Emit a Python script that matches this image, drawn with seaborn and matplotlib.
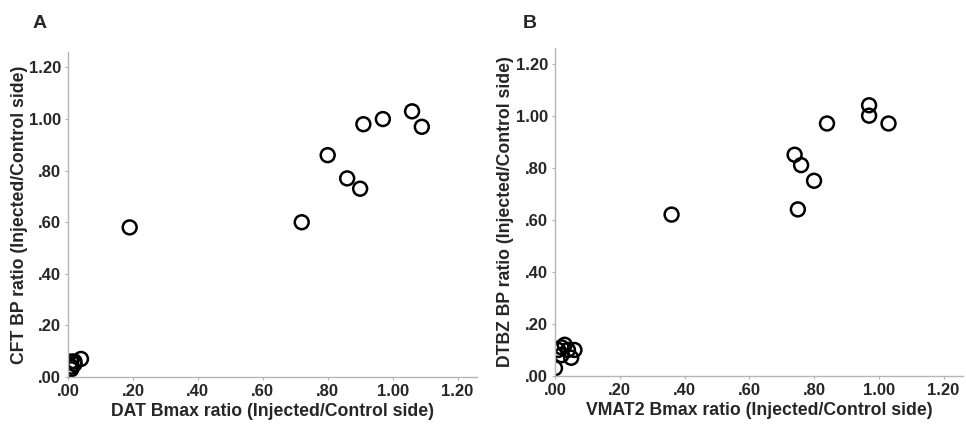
import numpy as np
import pandas as pd
import matplotlib
matplotlib.use("Agg")
import matplotlib.pyplot as plt
from matplotlib.ticker import FixedLocator
import seaborn as sns

# Panel A: DAT Bmax ratio vs CFT BP ratio
dat_bmax = [0.19, 0.72, 0.80, 0.86, 0.90, 0.91, 0.97, 1.06, 1.09,
            0.04, 0.01, 0.02, 0.01, 0.01, 0.02]
cft_bp = [0.58, 0.60, 0.86, 0.77, 0.73, 0.98, 1.00, 1.03, 0.97,
          0.07, 0.06, 0.06, 0.04, 0.03, 0.05]

# Panel B: VMAT2 Bmax ratio vs DTBZ BP ratio
vmat2_bmax = [0.36, 0.74, 0.76, 0.80, 0.75, 0.84, 0.97, 0.97, 1.03,
              0.03, 0.02, 0.01, 0.04, 0.06, 0.05, 0.02, 0.00]
dtbz_bp = [0.62, 0.85, 0.81, 0.75, 0.64, 0.97, 1.04, 1.00, 0.97,
           0.12, 0.11, 0.10, 0.10, 0.10, 0.07, 0.08, 0.03]

tick_values = [0.0, 0.2, 0.4, 0.6, 0.8, 1.0, 1.2]
tick_labels = [".00", ".20", ".40", ".60", ".80", "1.00", "1.20"]

panels = [
    ("A", dat_bmax, cft_bp, "DAT Bmax ratio (Injected/Control side)",
     "CFT BP ratio (Injected/Control side)"),
    ("B", vmat2_bmax, dtbz_bp, "VMAT2 Bmax ratio (Injected/Control side)",
     "DTBZ BP ratio (Injected/Control side)"),
]

sns.set_style("white")
plt.rcParams["font.family"] = ["Liberation Sans", "DejaVu Sans"]
plt.rcParams["font.weight"] = "bold"

fig = plt.figure(figsize=(9.66, 4.28), dpi=100)
positions = [
    [68 / 966, 1 - 377 / 428, (477 - 68) / 966, (377 - 52) / 428],
    [555 / 966, 1 - 376 / 428, (963 - 555) / 966, (376 - 48) / 428],
]
letter_x = [33 / 966, 523 / 966]
label_x = [20 / 966, 505 / 966]

for i, (letter, xs, ys, xlabel, ylabel) in enumerate(panels):
    ax = fig.add_axes(positions[i])
    df = pd.DataFrame({"x": xs, "y": ys})
    sns.scatterplot(data=df, x="x", y="y", ax=ax, s=100, marker="o",
                    facecolor="none", edgecolor="black", linewidth=1.8)
    ax.set_xlim(0, 1.26)
    ax.set_ylim(0, 1.26)
    ax.xaxis.set_major_locator(FixedLocator(tick_values))
    ax.yaxis.set_major_locator(FixedLocator(tick_values))
    ax.set_xticklabels(tick_labels)
    ax.set_yticklabels(tick_labels)
    ax.tick_params(axis="both", labelsize=12, length=2.5, width=0.8,
                   color="#b0b0b0", pad=2.5, direction="out",
                   bottom=True, left=True)
    for lab in ax.get_xticklabels() + ax.get_yticklabels():
        lab.set_fontweight("bold")
    for side in ["top", "right"]:
        ax.spines[side].set_visible(False)
    for side in ["left", "bottom"]:
        ax.spines[side].set_color("#b5b5b5")
        ax.spines[side].set_linewidth(1.0)
    ax.set_xlabel(xlabel, fontsize=12.7, fontweight="bold", labelpad=3)
    ax.set_ylabel("")
    fig.text(label_x[i], (positions[i][1] + positions[i][3] / 2), ylabel,
             rotation=90, ha="center", va="center", fontsize=12.7,
             fontweight="bold")
    fig.text(letter_x[i], 1 - 15 / 428, letter, ha="left", va="top",
             fontsize=14, fontweight="bold")

fig.savefig("out.png", dpi=100)
